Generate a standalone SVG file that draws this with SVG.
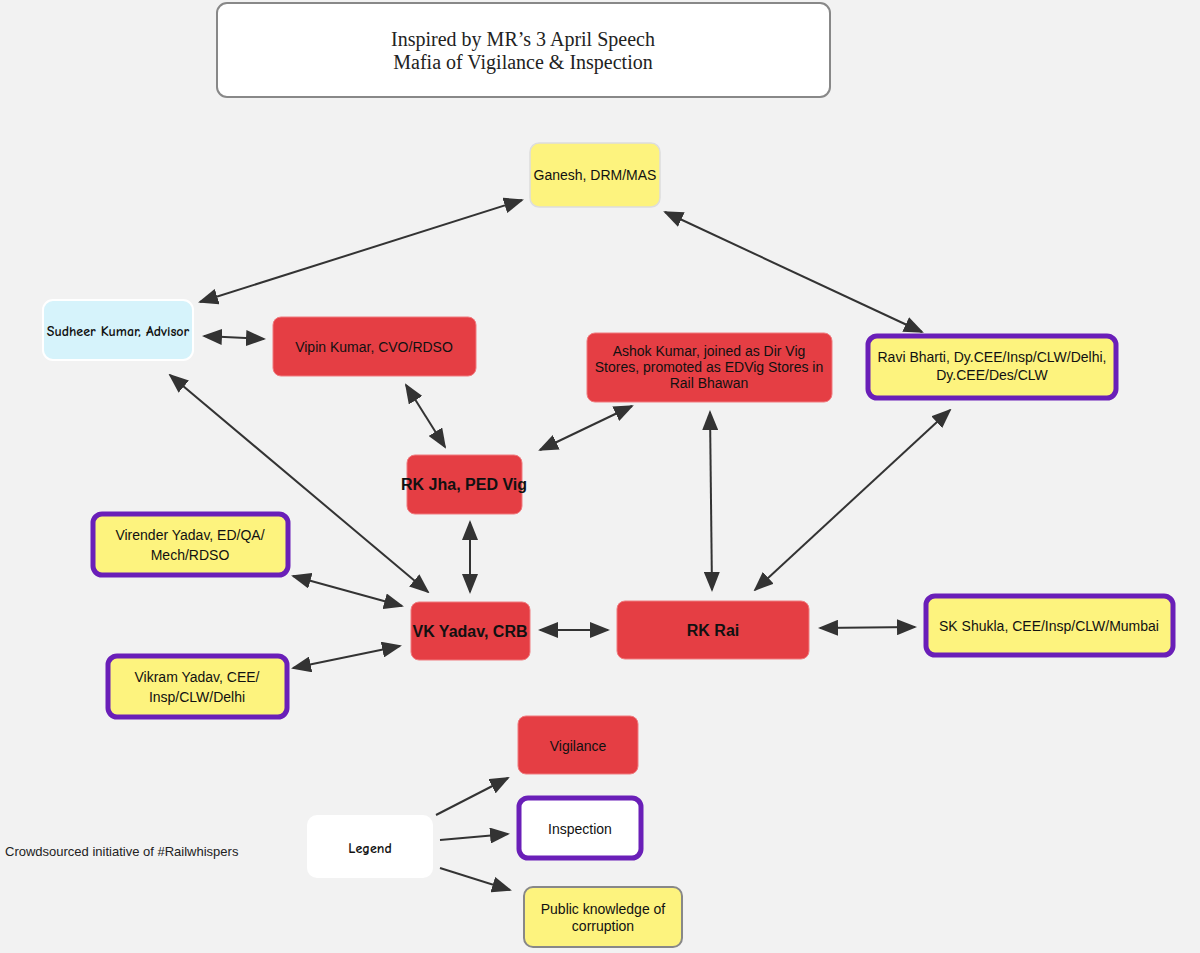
<svg xmlns="http://www.w3.org/2000/svg" width="1200" height="953" viewBox="0 0 1200 953">
<style>
.t{font-family:"Liberation Sans",Arial,sans-serif;font-size:14px;fill:#111;text-anchor:middle}
.b{font-weight:bold;font-size:16px}
.h{font-family:"Comic Neue","Liberation Sans",sans-serif;font-weight:bold;font-size:14px}
.red{fill:#e53e44;stroke:#f07a7e;stroke-width:1}
.yel{fill:#fdf37e;stroke:#6a1fb8;stroke-width:5}
.c line{stroke:#333;stroke-width:2}
</style>
<defs>
<marker id="a" markerUnits="userSpaceOnUse" markerWidth="20" markerHeight="16" refX="18" refY="8" orient="auto-start-reverse"><path d="M0,0 L20,8 L0,16 Z" fill="#333"/></marker>
</defs>
<rect width="1200" height="953" fill="#f2f2f2"/>
<g id="title"><rect x="217" y="3" width="613" height="94" rx="10" fill="#fff" stroke="#888" stroke-width="2"/>
<text x="523" y="46" text-anchor="middle" font-family="Liberation Serif,serif" font-size="20" fill="#222">Inspired by MR’s 3 April Speech</text>
<text x="523" y="69" text-anchor="middle" font-family="Liberation Serif,serif" font-size="20" fill="#222">Mafia of Vigilance &amp; Inspection</text></g>
<g class="c">
<line x1="522" y1="200" x2="200" y2="302" marker-start="url(#a)" marker-end="url(#a)"/>
<line x1="665" y1="212" x2="922" y2="332" marker-start="url(#a)" marker-end="url(#a)"/>
<line x1="204" y1="336" x2="264" y2="339" marker-start="url(#a)" marker-end="url(#a)"/>
<line x1="406" y1="385" x2="445" y2="447" marker-start="url(#a)" marker-end="url(#a)"/>
<line x1="632" y1="406" x2="540" y2="450" marker-start="url(#a)" marker-end="url(#a)"/>
<line x1="710" y1="412" x2="712" y2="590" marker-start="url(#a)" marker-end="url(#a)"/>
<line x1="950" y1="410" x2="755" y2="590" marker-start="url(#a)" marker-end="url(#a)"/>
<line x1="170" y1="375" x2="428" y2="592" marker-start="url(#a)" marker-end="url(#a)"/>
<line x1="470" y1="522" x2="470" y2="592" marker-start="url(#a)" marker-end="url(#a)"/>
<line x1="293" y1="576" x2="402" y2="606" marker-start="url(#a)" marker-end="url(#a)"/>
<line x1="293" y1="668" x2="400" y2="646" marker-start="url(#a)" marker-end="url(#a)"/>
<line x1="540" y1="630" x2="608" y2="630" marker-start="url(#a)" marker-end="url(#a)"/>
<line x1="820" y1="628" x2="915" y2="627" marker-start="url(#a)" marker-end="url(#a)"/>
<line x1="436" y1="815" x2="508" y2="778" marker-end="url(#a)"/>
<line x1="440" y1="840" x2="508" y2="834" marker-end="url(#a)"/>
<line x1="440" y1="868" x2="510" y2="890" marker-end="url(#a)"/>
</g>
<g id="ganesh"><rect x="530" y="143" width="130" height="64" rx="9" fill="#fdf37e" stroke="#ddd" stroke-width="1.5"/><text class="t" x="595" y="180" font-size="13">Ganesh, DRM/MAS</text></g>
<g id="sudheer"><rect x="43" y="300" width="150" height="60" rx="10" fill="#d6f3fb" stroke="#fff" stroke-width="2"/><text class="t h" x="118" y="336">Sudheer Kumar, Advisor</text></g>
<g id="vipin"><rect class="red" x="273" y="317" width="203" height="59" rx="8"/><text class="t" x="374" y="352" font-size="13">Vipin Kumar, CVO/RDSO</text></g>
<g id="ashok"><rect class="red" x="587" y="333" width="245" height="69" rx="8"/><text class="t" x="709" y="356" font-size="13">Ashok Kumar, joined as Dir Vig</text><text class="t" x="709" y="372" font-size="13">Stores, promoted as EDVig Stores in</text><text class="t" x="709" y="388" font-size="13">Rail Bhawan</text></g>
<g id="ravi"><rect class="yel" x="868" y="336" width="248" height="62" rx="9"/><text class="t" x="992" y="362">Ravi Bharti, Dy.CEE/Insp/CLW/Delhi,</text><text class="t" x="992" y="380">Dy.CEE/Des/CLW</text></g>
<g id="rkjha"><rect class="red" x="407" y="455" width="115" height="59" rx="8"/><text class="t b" x="464" y="490">RK Jha, PED Vig</text></g>
<g id="virender"><rect class="yel" x="93" y="514" width="195" height="61" rx="9"/><text class="t" x="190" y="540" font-size="16">Virender Yadav, ED/QA/</text><text class="t" x="190" y="560" font-size="16">Mech/RDSO</text></g>
<g id="vkyadav"><rect class="red" x="411" y="602" width="119" height="58" rx="8"/><text class="t b" x="470" y="637">VK Yadav, CRB</text></g>
<g id="rkrai"><rect class="red" x="617" y="601" width="192" height="58" rx="8"/><text class="t b" x="713" y="636">RK Rai</text></g>
<g id="skshukla"><rect class="yel" x="926" y="596" width="247" height="59" rx="9"/><text class="t" x="1049" y="631">SK Shukla, CEE/Insp/CLW/Mumbai</text></g>
<g id="vikram"><rect class="yel" x="108" y="656" width="179" height="61" rx="9"/><text class="t" x="197" y="682" font-size="16">Vikram Yadav, CEE/</text><text class="t" x="197" y="702" font-size="16">Insp/CLW/Delhi</text></g>
<g id="vigilance"><rect class="red" x="518" y="716" width="120" height="58" rx="8"/><text class="t" x="578" y="751">Vigilance</text></g>
<g id="inspection"><rect x="519" y="798" width="122" height="60" rx="9" fill="#fff" stroke="#6a1fb8" stroke-width="5"/><text class="t" x="580" y="834">Inspection</text></g>
<g id="public"><rect x="524" y="887" width="158" height="60" rx="9" fill="#fdf37e" stroke="#888" stroke-width="2"/><text class="t" x="603" y="914">Public knowledge of</text><text class="t" x="603" y="931">corruption</text></g>
<g id="legend"><rect x="307" y="815" width="126" height="63" rx="10" fill="#fff"/><text class="t h" x="370" y="853">Legend</text></g>
<text x="5" y="856" font-family="Liberation Sans,Arial,sans-serif" font-size="13" fill="#222">Crowdsourced initiative of #Railwhispers</text>
</svg>
